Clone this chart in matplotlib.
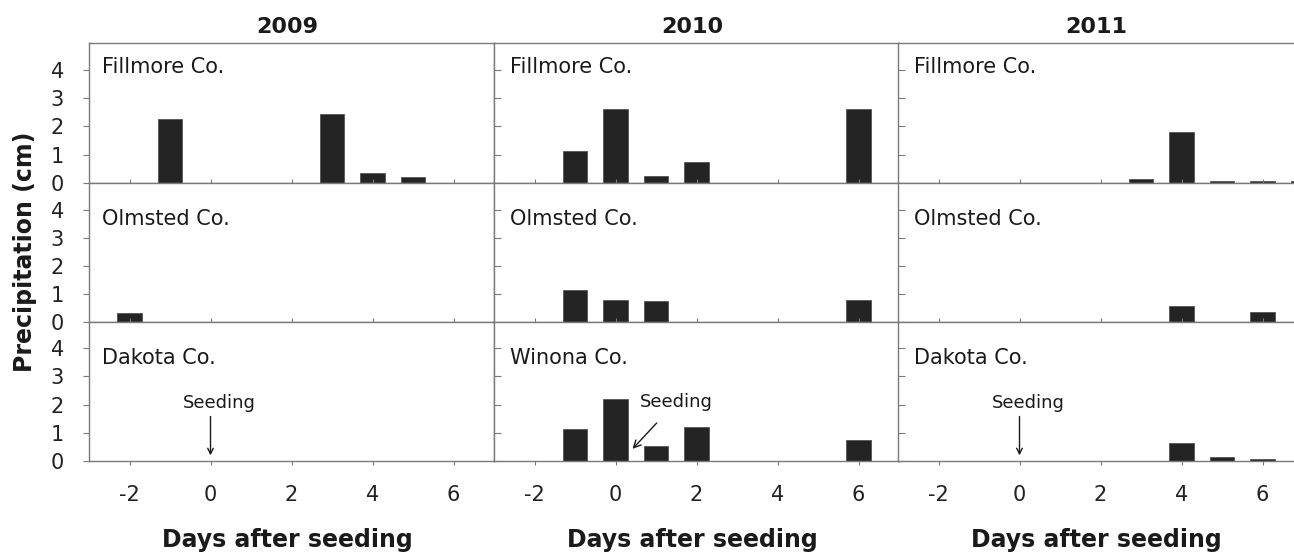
import matplotlib.pyplot as plt

plt.rcParams['font.family'] = ['DejaVu Sans']
plt.rcParams['axes.unicode_minus'] = False

# days relative to seeding
days = [-2, -1, 0, 1, 2, 3, 4, 5, 6, 7]

# precipitation (cm) per county and year
fillmore_2009 = [0, 2.27, 0, 0, 0, 2.44, 0.37, 0.20, 0, 0]
olmsted_2009 = [0.32, 0, 0, 0, 0, 0, 0, 0, 0, 0]
dakota_2009 = [0, 0, 0, 0, 0, 0, 0, 0, 0, 0]

fillmore_2010 = [0, 1.12, 2.61, 0.25, 0.74, 0, 0, 0, 2.60, 0]
olmsted_2010 = [0, 1.13, 0.78, 0.72, 0, 0, 0, 0, 0.77, 0]
winona_2010 = [0, 1.14, 2.19, 0.53, 1.20, 0, 0, 0, 0.76, 0]

fillmore_2011 = [0, 0, 0, 0, 0, 0.14, 1.79, 0.06, 0.06, 0.07]
olmsted_2011 = [0, 0, 0, 0, 0, 0, 0.56, 0, 0.33, 0]
dakota_2011 = [0, 0, 0, 0, 0, 0, 0.64, 0.14, 0.06, 0]

years = ["2009", "2010", "2011"]
county_names = [["Fillmore Co.", "Olmsted Co.", "Dakota Co."],
                ["Fillmore Co.", "Olmsted Co.", "Winona Co."],
                ["Fillmore Co.", "Olmsted Co.", "Dakota Co."]]
panels = [[fillmore_2009, olmsted_2009, dakota_2009],
          [fillmore_2010, olmsted_2010, winona_2010],
          [fillmore_2011, olmsted_2011, dakota_2011]]

W, H = 1294, 554
fig = plt.figure(figsize=(W / 100, H / 100), dpi=100)

col_left = [89, 494, 898]
col_w = 405
row_top = [43, 183, 321.5]
row_bot = [183, 321.5, 461]
line_c = '#7a7a7a'
txt_c = '#1a1a1a'

for c in range(3):
    for r in range(3):
        x0 = col_left[c] / W
        y0 = 1 - row_bot[r] / H
        h = (row_bot[r] - row_top[r]) / H
        ax = fig.add_axes([x0, y0, col_w / W, h])
        vals = panels[c][r]
        d = [dd for dd, v in zip(days, vals) if v > 0]
        v = [vv for vv in vals if vv > 0]
        ax.bar(d, v, width=0.6, color='#242424', edgecolor='#555555', linewidth=0.6)
        ax.set_xlim(-3, 7)
        ax.set_ylim(0, 4.95)
        for s in ax.spines.values():
            s.set_color(line_c)
            s.set_linewidth(1.0)
        ax.set_xticks([-2, 0, 2, 4, 6])
        ax.set_yticks([0, 1, 2, 3, 4])
        if r == 2:
            ax.tick_params(axis='x', direction='out', length=3, color=line_c,
                           labelsize=15, pad=14, labelcolor='#222222')
        else:
            ax.tick_params(axis='x', direction='in', length=3, color=line_c,
                           labelbottom=False)
        if c == 0:
            ax.tick_params(axis='y', direction='out', length=4, color=line_c,
                           labelsize=15, pad=14, labelcolor='#222222')
        else:
            ax.tick_params(axis='y', direction='in', length=5, color=line_c,
                           labelleft=False)
        ypos = 0.83 if r == 0 else 0.74
        xoff = 13 if c == 0 else 16
        ax.text(xoff / col_w, ypos, county_names[c][r], transform=ax.transAxes,
                fontsize=15, color=txt_c, va='center', ha='left')
        if r == 2:
            if c == 1:
                ax.annotate('Seeding', xy=(0.42, 0.43), xytext=(1.5, 2.09),
                            fontsize=13, ha='center', va='center', color=txt_c,
                            arrowprops=dict(arrowstyle='->', color=txt_c, lw=1,
                                            shrinkA=9, shrinkB=0))
            else:
                ax.annotate('Seeding', xy=(0, 0.2), xytext=(0.22, 2.05),
                            fontsize=13, ha='center', va='center', color=txt_c)
                ax.annotate('', xy=(0, 0.2), xytext=(0, 1.58),
                            arrowprops=dict(arrowstyle='->', color=txt_c, lw=1,
                                            shrinkA=0, shrinkB=0))

for c in range(3):
    cx = (col_left[c] + col_w / 2 - 4) / W
    fig.text(cx, 1 - 27 / H, years[c], fontsize=16, fontweight='bold',
             ha='center', va='center', color=txt_c)
    fig.text(cx, 1 - 540 / H, 'Days after seeding', fontsize=17, fontweight='bold',
             ha='center', va='center', color=txt_c)

fig.text(25 / W, 1 - 252 / H, 'Precipitation (cm)', fontsize=17, fontweight='bold',
         rotation=90, ha='center', va='center', color=txt_c)

fig.savefig('out.png', dpi=100)
